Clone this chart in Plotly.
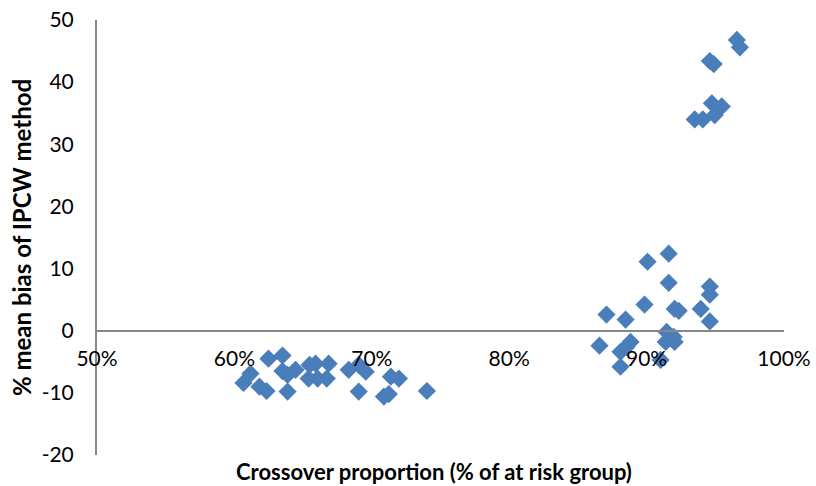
import plotly.graph_objects as go

# Crossover proportion (fraction of at-risk group)
crossover = [
    0.6066, 0.6117, 0.6182, 0.6234, 0.6248, 0.6350, 0.6350, 0.6387, 0.6445, 0.6387,
    0.6547, 0.6591, 0.6686, 0.6540, 0.6606, 0.6672, 0.6832, 0.6905, 0.6956, 0.6905,
    0.7139, 0.7197, 0.7124, 0.7088, 0.7401,
    0.9007, 0.9161, 0.9161, 0.8985, 0.8708, 0.8847, 0.9204, 0.9234, 0.9394, 0.9460,
    0.9460, 0.9460, 0.9146, 0.9197, 0.9139, 0.9204, 0.8657, 0.8883, 0.8854, 0.8810,
    0.9102, 0.8810,
    0.9657, 0.9679, 0.9460, 0.9489, 0.9475, 0.9547, 0.9350, 0.9409, 0.9496,
]
# % mean bias of IPCW method
bias = [
    -8.4, -6.9, -9.0, -9.7, -4.5, -4.0, -6.5, -7.1, -6.3, -9.8,
    -5.5, -5.3, -5.3, -7.7, -7.7, -7.7, -6.3, -5.5, -6.6, -9.8,
    -7.4, -7.7, -10.2, -10.6, -9.7,
    11.1, 12.4, 7.7, 4.2, 2.6, 1.8, 3.5, 3.2, 3.5, 7.1,
    5.8, 1.5, -0.2, -1.0, -1.8, -1.8, -2.4, -1.8, -2.6, -3.4,
    -4.7, -5.8,
    46.8, 45.6, 43.4, 42.9, 36.6, 36.1, 34.0, 34.0, 34.7,
]

x_range = [0.5, 1.0]
y_range = [-20, 50]
x_ticks = [0.5, 0.6, 0.7, 0.8, 0.9, 1.0]
x_tick_labels = ["50%", "60%", "70%", "80%", "90%", "100%"]
y_ticks = [-20, -10, 0, 10, 20, 30, 40, 50]
y_tick_labels = ["-20", "-10", "0", "10", "20", "30", "40", "50"]

FONT = "Lato"
AXIS_COLOR = "#878787"
TICK_SIZE = 21

fig = go.Figure()
fig.add_trace(go.Scatter(
    x=crossover, y=bias, mode="markers",
    marker=dict(symbol="diamond", size=14, color="#4A7EBB", line=dict(width=0)),
    showlegend=False,
))

fig.update_layout(
    width=816, height=486,
    margin=dict(l=97, r=32, t=20, b=31),
    plot_bgcolor="white", paper_bgcolor="white",
    font=dict(family=FONT, size=TICK_SIZE, color="black"),
    xaxis=dict(
        range=x_range, tickvals=x_ticks, ticktext=x_tick_labels,
        showgrid=False, zeroline=False, automargin=False,
        showline=True, linecolor=AXIS_COLOR, linewidth=2,
        anchor="free", position=(0 - y_range[0]) / (y_range[1] - y_range[0]),
        ticks="", ticklabelstandoff=9, ticklabeloverflow="allow",
        tickfont=dict(family=FONT, size=TICK_SIZE),
    ),
    yaxis=dict(
        range=y_range, tickvals=y_ticks, ticktext=y_tick_labels,
        showgrid=False, zeroline=False, automargin=False,
        showline=True, linecolor=AXIS_COLOR, linewidth=2,
        ticks="", ticklabelstandoff=17, ticklabeloverflow="allow",
        tickfont=dict(family=FONT, size=TICK_SIZE),
        title=dict(text="<b>% mean bias of IPCW method</b>",
                   font=dict(family=FONT, size=24), standoff=3),
    ),
    annotations=[dict(
        text="<b>Crossover proportion (% of at risk group)</b>",
        xref="paper", yref="paper", x=0.5, y=0, yshift=-2, xshift=-7,
        xanchor="center", yanchor="top", borderpad=0,
        showarrow=False, font=dict(family=FONT, size=22),
    )],
)

# remove the default 8px page margin so the figure fills the window exactly
fig.write_html("out.html", config={"displayModeBar": False},
               post_script="document.body.style.margin='0';")
